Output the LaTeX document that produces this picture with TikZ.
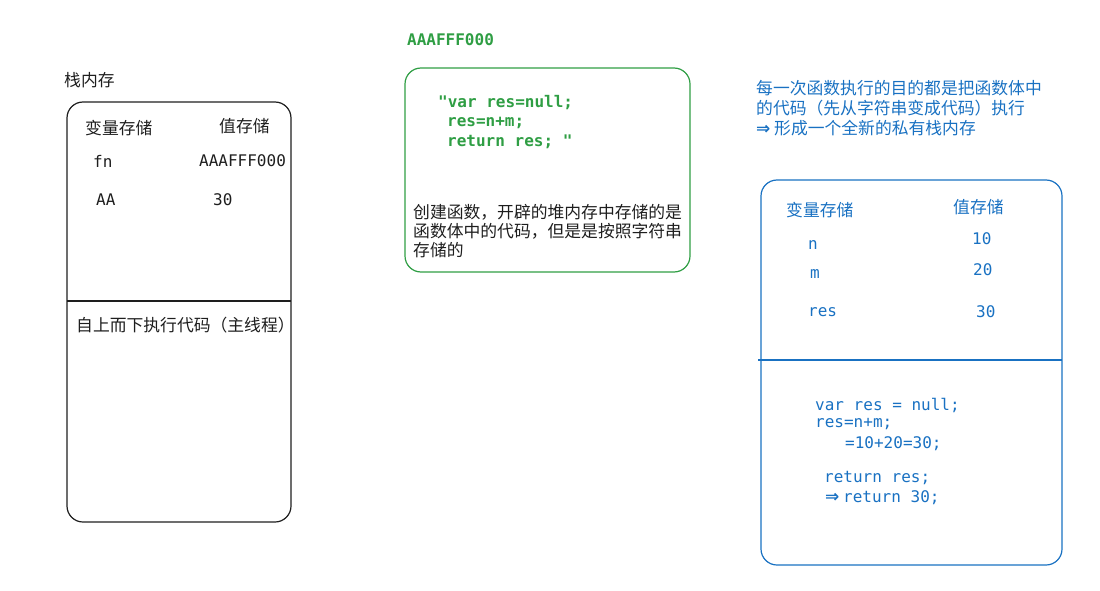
\documentclass[tikz,border=0pt]{standalone}
\usepackage{fontspec}
\newfontfamily\cjk{Noto Sans CJK SC}
\newfontfamily\arrowfont{DejaVu Sans}
\setmonofont{DejaVu Sans Mono}
\definecolor{skInk}{HTML}{1E1E1E}
\definecolor{skGreen}{HTML}{2F9E44}
\definecolor{skBlue}{HTML}{1971C2}
\newcommand{\bigimplies}{\makebox[18pt][l]{\arrowfont\bfseries\fontsize{17}{19.5}\selectfont ⇒}}
\tikzset{
  memtext/.style={anchor=west, inner sep=0pt, font=\cjk\fontsize{16.8}{19.5}\selectfont},
  memcode/.style={anchor=west, inner sep=0pt, font=\ttfamily\fontsize{16}{19.5}\selectfont},
  membox/.style={line width=1.2pt, rounded corners=16pt},
}

\begin{document}
\begin{tikzpicture}[x=1pt, y=1pt]
  \useasboundingbox (0,0) rectangle (1100,-591);

  % main stack
  \node[memtext, text=skInk] (stackTitle) at (64,-80) {栈内存};
  \draw[membox, skInk] (67,-102) rectangle (291,-522);
  \draw[skInk, line width=1.2pt] (67,-301) -- (291,-301);
  \node[memtext, text=skInk] (stackVarHead) at (85,-128) {变量存储};
  \node[memtext, text=skInk] (stackValHead) at (219,-126) {值存储};
  \foreach \var/\val/\vx/\ux/\y [count=\i] in {fn/AAAFFF000/93/199/161, AA/30/96/213/200} {
    \node[memcode, text=skInk] (stackVar\i) at (\vx, -\y) {\var};
    \node[memcode, text=skInk] (stackVal\i) at (\ux, -\y) {\val};
  }
  \node[memtext, text=skInk] (stackRun) at (76,-325) {自上而下执行代码（主线程）};

  % heap for the function
  \node[memcode, font=\ttfamily\bfseries\fontsize{16}{19.5}\selectfont, text=skGreen] (heapAddr) at (407,-40) {AAAFFF000};
  \draw[membox, skGreen] (405,-68) rectangle (690,-272);
  \foreach \line/\x/\y [count=\i] in {{"var res=null;}/438/103, {res=n+m;}/447/123, {return res; "}/447/142} {
    \node[memcode, font=\ttfamily\bfseries\fontsize{16}{19.5}\selectfont, text=skGreen] (heapCode\i) at (\x, -\y) {\line};
  }
  \foreach \line/\y [count=\i] in {创建函数，开辟的堆内存中存储的是/212, 函数体中的代码，但是是按照字符串/231, 存储的/250} {
    \node[memtext, text=skInk] (heapNote\i) at (413, -\y) {\line};
  }

  % private stack of a call
  \foreach \line/\y [count=\i] in {每一次函数执行的目的都是把函数体中/88, 的代码（先从字符串变成代码）执行/108, \bigimplies 形成一个全新的私有栈内存/128} {
    \node[memtext, text=skBlue] (callNote\i) at (756, -\y) {\line};
  }
  \draw[membox, skBlue] (761,-180) rectangle (1062,-565);
  \draw[skBlue, line width=1.2pt] (758,-360) -- (1062,-360);
  \node[memtext, text=skBlue] (callVarHead) at (786,-210) {变量存储};
  \node[memtext, text=skBlue] (callValHead) at (953,-207) {值存储};
  \foreach \var/\val/\vx/\ux/\vy/\uy [count=\i] in {n/10/808/972/245/239, m/20/810/973/274/270, res/30/808/976/312/312} {
    \node[memcode, text=skBlue] (callVar\i) at (\vx, -\vy) {\var};
    \node[memcode, text=skBlue] (callVal\i) at (\ux, -\uy) {\val};
  }
  \foreach \line/\x/\y [count=\i] in {{var res = null;}/815/405, {res=n+m;}/815/424, {=10+20=30;}/845/444, {return res;}/824/478, {\bigimplies return 30;}/825/498} {
    \node[memcode, text=skBlue] (callCode\i) at (\x, -\y) {\line};
  }
\end{tikzpicture}
\end{document}
